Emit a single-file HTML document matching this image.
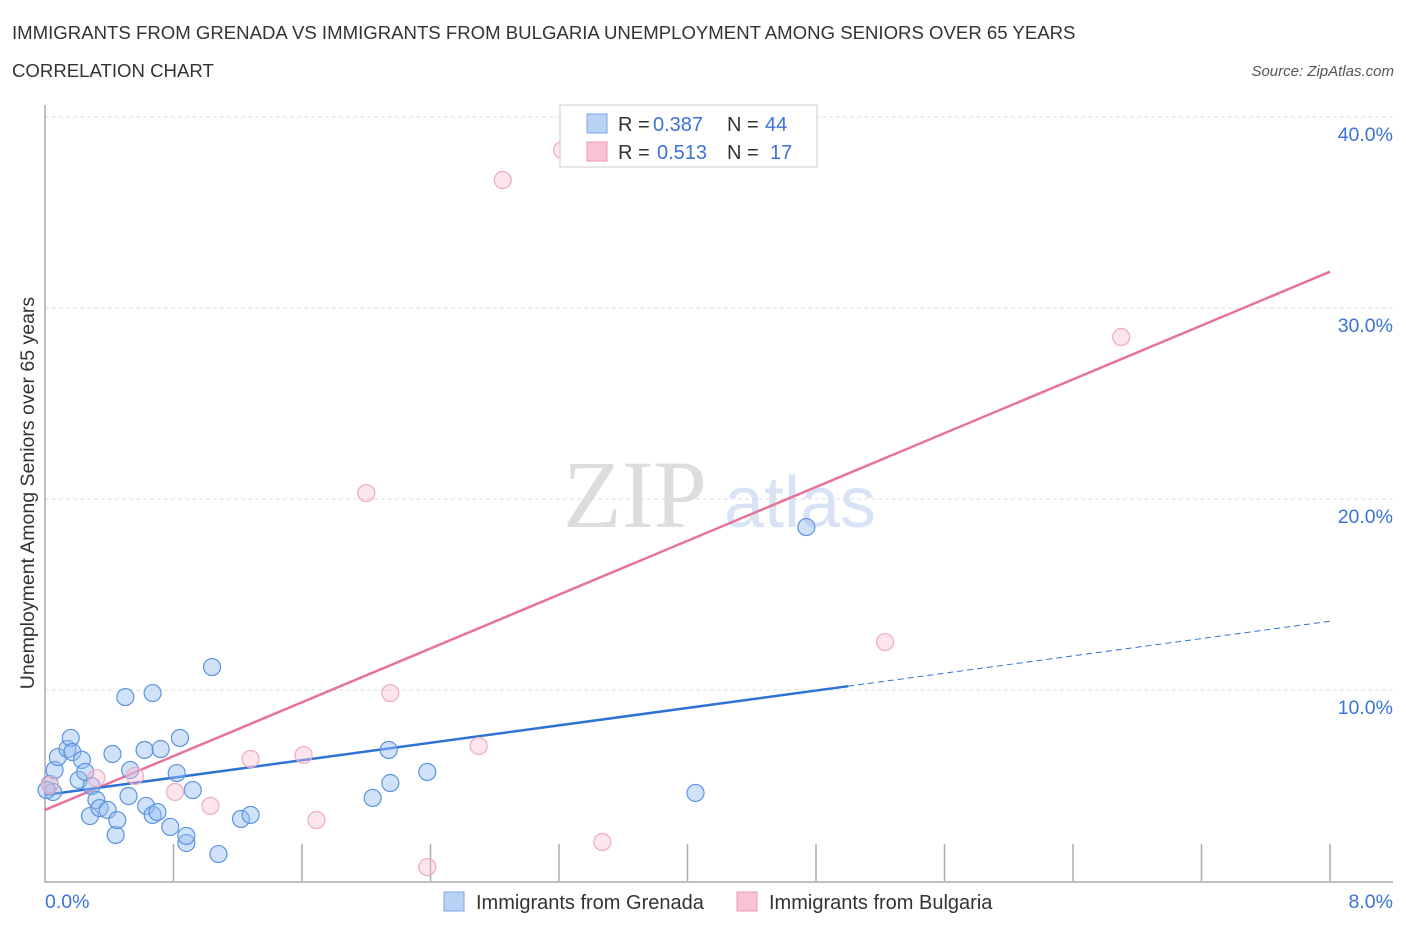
<!DOCTYPE html>
<html><head><meta charset="utf-8"><style>
body{margin:0;background:#fff;font-family:"Liberation Sans",sans-serif;}
svg{display:block}
</style></head><body>
<svg id="chart" width="1406" height="930" xmlns="http://www.w3.org/2000/svg">
<text x="12" y="39" font-size="18.6" fill="#333">IMMIGRANTS FROM GRENADA VS IMMIGRANTS FROM BULGARIA UNEMPLOYMENT AMONG SENIORS OVER 65 YEARS</text>
<text x="12" y="77" font-size="18.6" fill="#333">CORRELATION CHART</text>
<text x="1394" y="76" font-size="15" fill="#555" font-style="italic" text-anchor="end">Source: ZipAtlas.com</text>
<g>
<text x="635" y="527" font-size="96" font-family="Liberation Serif,serif" fill="#ddd" text-anchor="middle">ZIP</text>
<text x="800" y="527" font-size="72" fill="#d8e4f5" text-anchor="middle">atlas</text>
</g>
<g id="grid"></g>
<g id="axes"></g>
<g id="lines"></g>
<g id="pts"></g>
<text transform="translate(34,493) rotate(-90)" font-size="19.5" fill="#333" text-anchor="middle">Unemployment Among Seniors over 65 years</text>
<text x="45" y="908" font-size="19.5" fill="#3b73d6">0.0%</text>
<text x="1393" y="908" font-size="19.5" fill="#3b73d6" text-anchor="end">8.0%</text>
<g>
<rect x="560" y="105" width="257" height="62" fill="#fff" stroke="#ccc"/>
<rect x="587" y="114" width="20" height="19" fill="#b9d3f5" stroke="#7aa6e6"/>
<rect x="587" y="142" width="20" height="19" fill="#f8c4d4" stroke="#ec9ab3"/>
<text x="618" y="131" font-size="20" fill="#333">R =</text>
<text x="653" y="131" font-size="20" fill="#3b73d6">0.387</text>
<text x="727" y="131" font-size="20" fill="#333">N =</text>
<text x="765" y="131" font-size="20" fill="#3b73d6">44</text>
<text x="618" y="159" font-size="20" fill="#333">R =</text>
<text x="657" y="159" font-size="20" fill="#3b73d6">0.513</text>
<text x="727" y="159" font-size="20" fill="#333">N =</text>
<text x="770" y="159" font-size="20" fill="#3b73d6">17</text>
</g>
<g>
<rect x="444" y="892" width="20" height="19" fill="#b9d3f5" stroke="#7aa6e6"/>
<text x="476" y="909" font-size="20" fill="#333">Immigrants from Grenada</text>
<rect x="737" y="892" width="20" height="19" fill="#f8c4d4" stroke="#ec9ab3"/>
<text x="769" y="909" font-size="20" fill="#333">Immigrants from Bulgaria</text>
</g>
</svg>
<script>
const blueX=[0.03,0.05,0.06,0.08,0.14,0.16,0.17,0.21,0.23,0.25,0.28,0.29,0.32,0.34,0.39,0.42,0.44,0.45,0.50,0.52,0.53,0.62,0.63,0.67,0.67,0.70,0.72,0.78,0.82,0.84,0.88,0.88,0.92,1.04,1.08,1.22,1.28,2.04,2.14,2.15,2.38,4.05,4.74,0.01];
const blueY=[5.08,4.66,5.81,6.49,6.91,7.49,6.75,5.29,6.34,5.71,3.40,4.97,4.24,3.82,3.72,6.65,2.41,3.19,9.63,4.45,5.81,6.86,3.93,9.84,3.46,3.61,6.91,2.83,5.65,7.49,1.99,2.36,4.76,11.20,1.41,3.25,3.46,4.35,6.86,5.13,5.71,4.61,18.53,4.76];
const pinkX=[0.03,0.32,0.56,0.81,1.03,1.28,1.61,1.69,2.00,2.15,2.38,2.70,2.85,3.22,3.47,5.23,6.70];
const pinkY=[5.03,5.39,5.50,4.66,3.93,6.39,6.60,3.19,20.31,9.84,0.73,7.07,36.70,38.27,2.04,12.51,28.48];
const yTicks=[10,20,30,40];
const yTickLabels=["10.0%","20.0%","30.0%","40.0%"];
const blueTrend=[4.50,10.2,13.6]; // at x=0, 5, 8
const pinkTrend=[3.72,31.9]; // at x=0, 8
const NS="http://www.w3.org/2000/svg";
const X=v=>45+v*160.625, Y=v=>881-v*19.1;
function mk(t,a,p){const e=document.createElementNS(NS,t);for(const k in a)e.setAttribute(k,a[k]);p.appendChild(e);return e;}
const grid=document.getElementById('grid'),axes=document.getElementById('axes'),lines=document.getElementById('lines'),pts=document.getElementById('pts');
yTicks.forEach((t,i)=>{
 const l=mk('line',{x1:45,x2:1393,y1:Y(t),y2:Y(t),stroke:'#ddd','stroke-dasharray':'4,3'},grid);
 
 
 const tx=mk('text',{x:1393,y:Y(t)+24,'font-size':19.5,fill:'#3b73d6','text-anchor':'end'},grid);
 tx.textContent=yTickLabels[i];
 
 
});
const ax=mk('path',{d:`M45 105 V${Y(0)+1} H1393`,stroke:'#aaa',fill:'none','stroke-width':1.5},axes);


for(let i=1;i<=10;i++){
 const t=mk('line',{x1:X(i*0.8),x2:X(i*0.8),y1:Y(0),y2:Y(0)-37,stroke:'#aaa','stroke-width':1.5},axes);
 
 
}
const pl=mk('line',{x1:X(0),y1:Y(pinkTrend[0]),x2:X(8),y2:Y(pinkTrend[1]),stroke:'#e8739a','stroke-width':2.5},lines);


const bl=mk('line',{x1:X(0),y1:Y(blueTrend[0]),x2:X(5),y2:Y(blueTrend[1]),stroke:'#2e73d4','stroke-width':2.5},lines);


const bd=mk('line',{x1:X(5),y1:Y(blueTrend[1]),x2:X(8),y2:Y(blueTrend[2]),stroke:'#2e73d4','stroke-width':1,'stroke-dasharray':'6,4'},lines);


blueX.forEach((x,i)=>{
 const c=mk('circle',{cx:X(x),cy:Y(blueY[i]),r:8.5,fill:'rgba(150,190,240,0.45)',stroke:'#5b93e0','stroke-width':1.2},pts);
 
 
});
pinkX.forEach((x,i)=>{
 const c=mk('circle',{cx:X(x),cy:Y(pinkY[i]),r:8.5,fill:'rgba(248,190,210,0.4)',stroke:'#eeaac0','stroke-width':1.2},pts);
 
 
});
</script>
</body></html>
